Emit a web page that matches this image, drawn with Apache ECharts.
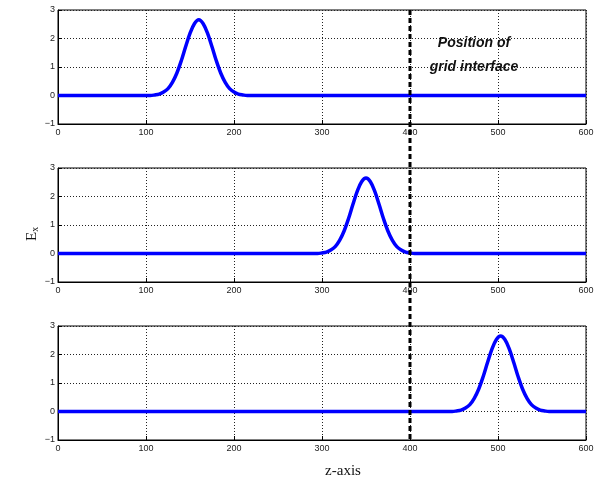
<!DOCTYPE html>
<html>
<head>
<meta charset="utf-8">
<script src="https://cdn.jsdelivr.net/npm/echarts@6/dist/echarts.min.js"></script>
<style>
  html, body { margin: 0; padding: 0; background: #fff; }
  #chart { width: 601px; height: 489px; }
</style>
</head>
<body>
<div id="chart"></div>
<script>
// pulse samples (z position, E_x value)
const z1 = [0, 105, 110, 115, 120, 125, 130, 135, 140, 145, 150, 155, 160, 165, 170, 175, 180, 185, 190, 195, 200, 205, 210, 215, 600];
const z2 = [0, 295, 300, 305, 310, 315, 320, 325, 330, 335, 340, 345, 350, 355, 360, 365, 370, 375, 380, 385, 390, 395, 400, 405, 600];
const z3 = [0, 448, 453, 458, 463, 468, 473, 478, 483, 488, 493, 498, 503, 508, 513, 518, 523, 528, 533, 538, 543, 548, 553, 558, 600];
const ex1 = [0, 0, 0.02, 0.05, 0.12, 0.24, 0.46, 0.78, 1.21, 1.71, 2.18, 2.52, 2.66, 2.52, 2.18, 1.71, 1.21, 0.78, 0.46, 0.24, 0.12, 0.05, 0.02, 0, 0];
const ex2 = [0, 0, 0.02, 0.05, 0.12, 0.24, 0.46, 0.78, 1.21, 1.71, 2.18, 2.52, 2.65, 2.52, 2.18, 1.71, 1.21, 0.78, 0.46, 0.24, 0.12, 0.05, 0.02, 0, 0];
const ex3 = [0, 0, 0.02, 0.05, 0.12, 0.24, 0.46, 0.78, 1.21, 1.71, 2.18, 2.52, 2.65, 2.52, 2.18, 1.71, 1.21, 0.78, 0.46, 0.24, 0.12, 0.05, 0.02, 0, 0];
const zTicks = [0, 100, 200, 300, 400, 500, 600];
const eTicks = [-1, 0, 1, 2, 3];
const interfaceZ = 400;

const pulses = [[z1, ex1], [z2, ex2], [z3, ex3]];
const tops = [10, 168, 326];

const chart = echarts.init(document.getElementById("chart"));

const tickFont = { color: "#222", fontSize: 9, fontFamily: "Liberation Sans, Arial, sans-serif" };
const dotted = { show: true, lineStyle: { color: "#222", type: [1, 2], width: 1 } };
const serif = "Liberation Serif, Times New Roman, serif";

chart.setOption({
  backgroundColor: "#fff",
  animation: false,
  grid: tops.map(t => ({
    left: 58, top: t, width: 528, height: 114,
    show: true, borderColor: "#000", borderWidth: 1, backgroundColor: "transparent"
  })),
  xAxis: tops.map((t, i) => ({
    type: "value", gridIndex: i,
    min: zTicks[0], max: zTicks[zTicks.length - 1], interval: 100,
    axisLine: { show: true, onZero: false, lineStyle: { color: "#000", width: 1 } },
    axisTick: { show: true, inside: true, length: 4, lineStyle: { color: "#000" } },
    axisLabel: Object.assign({ margin: 4 }, tickFont),
    splitLine: dotted
  })),
  yAxis: tops.map((t, i) => ({
    type: "value", gridIndex: i,
    min: eTicks[0], max: eTicks[eTicks.length - 1], interval: 1,
    axisLine: { show: true, onZero: false, lineStyle: { color: "#000", width: 1 } },
    axisTick: { show: true, inside: true, length: 4, lineStyle: { color: "#000" } },
    axisLabel: Object.assign({
      margin: 3,
      formatter: v => (v < 0 ? "\u2212" + Math.abs(v) : String(v))
    }, tickFont),
    splitLine: dotted
  })),
  series: pulses.map((p, i) => ({
    type: "line", xAxisIndex: i, yAxisIndex: i,
    data: p[0].map((z, k) => [z, p[1][k]]),
    smooth: 0.35, showSymbol: false,
    lineStyle: { color: "#0000ff", width: 3.5 },
    z: 3
  }))
});

// dashed interface line spanning all three panels, placed through the axes
const xPix = chart.convertToPixel({ xAxisIndex: 0 }, interfaceZ);
const yTop = chart.convertToPixel({ yAxisIndex: 0 }, eTicks[eTicks.length - 1]);
const yBot = chart.convertToPixel({ yAxisIndex: 2 }, eTicks[0]);

chart.setOption({
  graphic: [
    {
      type: "line", z: 10,
      shape: { x1: xPix, y1: yTop, x2: xPix, y2: yBot },
      style: { stroke: "#000", lineWidth: 3, lineDash: [5, 3] }
    },
    {
      type: "text", x: 474, y: 43, z: 10,
      style: {
        text: "Position of", align: "center", verticalAlign: "middle",
        fill: "#111", fontSize: 14, fontStyle: "italic", fontWeight: "bold",
        fontFamily: "Liberation Sans, Arial, sans-serif"
      }
    },
    {
      type: "text", x: 474, y: 67, z: 10,
      style: {
        text: "grid interface", align: "center", verticalAlign: "middle",
        fill: "#111", fontSize: 14, fontStyle: "italic", fontWeight: "bold",
        fontFamily: "Liberation Sans, Arial, sans-serif"
      }
    },
    {
      type: "text", x: 343, y: 471,
      style: { text: "z-axis", align: "center", verticalAlign: "middle", fill: "#111", fontSize: 15, fontFamily: serif }
    },
    {
      type: "text", x: 24, y: 241, rotation: Math.PI / 2,
      style: {
        text: "{e|E}{s|x}",
        rich: {
          e: { fontSize: 15, fill: "#111", fontFamily: serif },
          s: { fontSize: 10, fill: "#111", fontFamily: serif, padding: [6, 0, 0, 0] }
        }
      }
    }
  ]
});
</script>
</body>
</html>
